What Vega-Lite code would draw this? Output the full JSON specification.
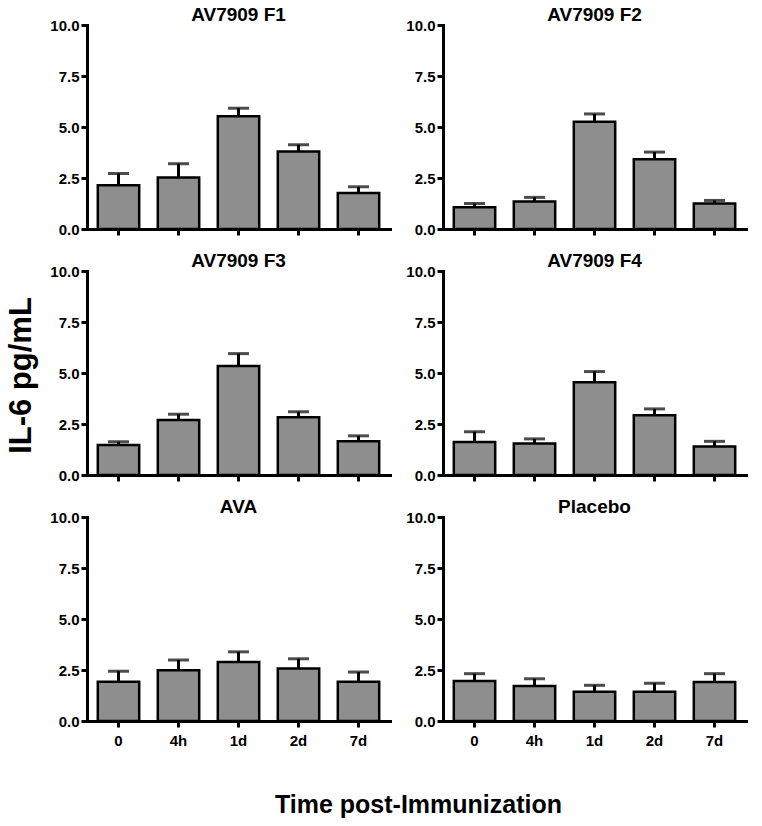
{
  "$schema": "https://vega.github.io/schema/vega-lite/v6.json",
  "padding": {"left": 4, "top": 6, "right": 5, "bottom": 2},
  "background": "white",
  "columns": 2,
  "spacing": {"row": 42, "column": 53},
  "bounds": "flush",
  "data": {"values": [
    {"panel": "AV7909 F1", "time": "0", "mean": 2.14, "upper": 2.72},
    {"panel": "AV7909 F1", "time": "4h", "mean": 2.53, "upper": 3.2},
    {"panel": "AV7909 F1", "time": "1d", "mean": 5.53, "upper": 5.92},
    {"panel": "AV7909 F1", "time": "2d", "mean": 3.8, "upper": 4.13},
    {"panel": "AV7909 F1", "time": "7d", "mean": 1.76, "upper": 2.07},
    {"panel": "AV7909 F2", "time": "0", "mean": 1.07, "upper": 1.25},
    {"panel": "AV7909 F2", "time": "4h", "mean": 1.35, "upper": 1.55},
    {"panel": "AV7909 F2", "time": "1d", "mean": 5.26, "upper": 5.64},
    {"panel": "AV7909 F2", "time": "2d", "mean": 3.42, "upper": 3.77},
    {"panel": "AV7909 F2", "time": "7d", "mean": 1.25, "upper": 1.4},
    {"panel": "AV7909 F3", "time": "0", "mean": 1.47, "upper": 1.63},
    {"panel": "AV7909 F3", "time": "4h", "mean": 2.69, "upper": 2.98},
    {"panel": "AV7909 F3", "time": "1d", "mean": 5.34, "upper": 5.95},
    {"panel": "AV7909 F3", "time": "2d", "mean": 2.83, "upper": 3.1},
    {"panel": "AV7909 F3", "time": "7d", "mean": 1.66, "upper": 1.92},
    {"panel": "AV7909 F4", "time": "0", "mean": 1.62, "upper": 2.12},
    {"panel": "AV7909 F4", "time": "4h", "mean": 1.54, "upper": 1.77},
    {"panel": "AV7909 F4", "time": "1d", "mean": 4.55, "upper": 5.07},
    {"panel": "AV7909 F4", "time": "2d", "mean": 2.93, "upper": 3.24},
    {"panel": "AV7909 F4", "time": "7d", "mean": 1.4, "upper": 1.65},
    {"panel": "AVA", "time": "0", "mean": 1.93, "upper": 2.44},
    {"panel": "AVA", "time": "4h", "mean": 2.49, "upper": 2.99},
    {"panel": "AVA", "time": "1d", "mean": 2.89, "upper": 3.39},
    {"panel": "AVA", "time": "2d", "mean": 2.57, "upper": 3.05},
    {"panel": "AVA", "time": "7d", "mean": 1.93, "upper": 2.4},
    {"panel": "Placebo", "time": "0", "mean": 1.96, "upper": 2.32},
    {"panel": "Placebo", "time": "4h", "mean": 1.72, "upper": 2.07},
    {"panel": "Placebo", "time": "1d", "mean": 1.43, "upper": 1.75},
    {"panel": "Placebo", "time": "2d", "mean": 1.43, "upper": 1.85},
    {"panel": "Placebo", "time": "7d", "mean": 1.91, "upper": 2.32}
  ]},
  "concat": [
    {
      "title": "AV7909 F1",
      "width": 303, "height": 204,
      "transform": [{"filter": "datum.panel == 'AV7909 F1'"}],
      "encoding": {"x": {"field": "time", "type": "ordinal", "sort": ["0", "4h", "1d", "2d", "7d"], "title": null, "scale": {"paddingInner": 0.31, "paddingOuter": 0.18}, "axis": {"labels": false}}},
      "layer": [
        {"mark": {"type": "bar", "fill": "#8e8e8e", "stroke": "black", "strokeWidth": 2.5}, "encoding": {"y": {"field": "mean", "type": "quantitative", "title": null, "scale": {"domain": [0, 10], "nice": false}, "axis": {"values": [0, 2.5, 5, 7.5, 10], "format": ".1f"}}}},
        {"mark": {"type": "rule", "color": "black", "strokeWidth": 3}, "encoding": {"y": {"field": "mean", "type": "quantitative", "title": null}, "y2": {"field": "upper", "title": null}}},
        {"mark": {"type": "tick", "color": "black", "thickness": 3, "size": 21}, "encoding": {"y": {"field": "upper", "type": "quantitative", "title": null}}}
      ]
    },
    {
      "title": "AV7909 F2",
      "width": 303, "height": 204,
      "transform": [{"filter": "datum.panel == 'AV7909 F2'"}],
      "encoding": {"x": {"field": "time", "type": "ordinal", "sort": ["0", "4h", "1d", "2d", "7d"], "title": null, "scale": {"paddingInner": 0.31, "paddingOuter": 0.18}, "axis": {"labels": false}}},
      "layer": [
        {"mark": {"type": "bar", "fill": "#8e8e8e", "stroke": "black", "strokeWidth": 2.5}, "encoding": {"y": {"field": "mean", "type": "quantitative", "title": null, "scale": {"domain": [0, 10], "nice": false}, "axis": {"values": [0, 2.5, 5, 7.5, 10], "format": ".1f"}}}},
        {"mark": {"type": "rule", "color": "black", "strokeWidth": 3}, "encoding": {"y": {"field": "mean", "type": "quantitative", "title": null}, "y2": {"field": "upper", "title": null}}},
        {"mark": {"type": "tick", "color": "black", "thickness": 3, "size": 21}, "encoding": {"y": {"field": "upper", "type": "quantitative", "title": null}}}
      ]
    },
    {
      "title": "AV7909 F3",
      "width": 303, "height": 204,
      "transform": [{"filter": "datum.panel == 'AV7909 F3'"}],
      "encoding": {"x": {"field": "time", "type": "ordinal", "sort": ["0", "4h", "1d", "2d", "7d"], "title": null, "scale": {"paddingInner": 0.31, "paddingOuter": 0.18}, "axis": {"labels": false}}},
      "layer": [
        {"mark": {"type": "bar", "fill": "#8e8e8e", "stroke": "black", "strokeWidth": 2.5}, "encoding": {"y": {"field": "mean", "type": "quantitative", "title": "IL-6 pg/mL", "scale": {"domain": [0, 10], "nice": false}, "axis": {"values": [0, 2.5, 5, 7.5, 10], "format": ".1f", "titleFontSize": 31, "titleX": -66, "titleY": 104, "titleAlign": "center", "titleBaseline": "middle", "titleAngle": -90}}}},
        {"mark": {"type": "rule", "color": "black", "strokeWidth": 3}, "encoding": {"y": {"field": "mean", "type": "quantitative", "title": "IL-6 pg/mL"}, "y2": {"field": "upper", "title": "IL-6 pg/mL"}}},
        {"mark": {"type": "tick", "color": "black", "thickness": 3, "size": 21}, "encoding": {"y": {"field": "upper", "type": "quantitative", "title": "IL-6 pg/mL"}}}
      ]
    },
    {
      "title": "AV7909 F4",
      "width": 303, "height": 204,
      "transform": [{"filter": "datum.panel == 'AV7909 F4'"}],
      "encoding": {"x": {"field": "time", "type": "ordinal", "sort": ["0", "4h", "1d", "2d", "7d"], "title": null, "scale": {"paddingInner": 0.31, "paddingOuter": 0.18}, "axis": {"labels": false}}},
      "layer": [
        {"mark": {"type": "bar", "fill": "#8e8e8e", "stroke": "black", "strokeWidth": 2.5}, "encoding": {"y": {"field": "mean", "type": "quantitative", "title": null, "scale": {"domain": [0, 10], "nice": false}, "axis": {"values": [0, 2.5, 5, 7.5, 10], "format": ".1f"}}}},
        {"mark": {"type": "rule", "color": "black", "strokeWidth": 3}, "encoding": {"y": {"field": "mean", "type": "quantitative", "title": null}, "y2": {"field": "upper", "title": null}}},
        {"mark": {"type": "tick", "color": "black", "thickness": 3, "size": 21}, "encoding": {"y": {"field": "upper", "type": "quantitative", "title": null}}}
      ]
    },
    {
      "title": "AVA",
      "width": 303, "height": 204,
      "transform": [{"filter": "datum.panel == 'AVA'"}],
      "encoding": {"x": {"field": "time", "type": "ordinal", "sort": ["0", "4h", "1d", "2d", "7d"], "title": "Time post-Immunization", "scale": {"paddingInner": 0.31, "paddingOuter": 0.18}, "axis": {"labelAngle": 0, "labelPadding": 6, "titleFontSize": 25, "titleX": 331, "titleY": 91, "titleAlign": "center", "titleBaseline": "alphabetic"}}},
      "layer": [
        {"mark": {"type": "bar", "fill": "#8e8e8e", "stroke": "black", "strokeWidth": 2.5}, "encoding": {"y": {"field": "mean", "type": "quantitative", "title": null, "scale": {"domain": [0, 10], "nice": false}, "axis": {"values": [0, 2.5, 5, 7.5, 10], "format": ".1f"}}}},
        {"mark": {"type": "rule", "color": "black", "strokeWidth": 3}, "encoding": {"y": {"field": "mean", "type": "quantitative", "title": null}, "y2": {"field": "upper", "title": null}}},
        {"mark": {"type": "tick", "color": "black", "thickness": 3, "size": 21}, "encoding": {"y": {"field": "upper", "type": "quantitative", "title": null}}}
      ]
    },
    {
      "title": "Placebo",
      "width": 303, "height": 204,
      "transform": [{"filter": "datum.panel == 'Placebo'"}],
      "encoding": {"x": {"field": "time", "type": "ordinal", "sort": ["0", "4h", "1d", "2d", "7d"], "title": null, "scale": {"paddingInner": 0.31, "paddingOuter": 0.18}, "axis": {"labelAngle": 0, "labelPadding": 6}}},
      "layer": [
        {"mark": {"type": "bar", "fill": "#8e8e8e", "stroke": "black", "strokeWidth": 2.5}, "encoding": {"y": {"field": "mean", "type": "quantitative", "title": null, "scale": {"domain": [0, 10], "nice": false}, "axis": {"values": [0, 2.5, 5, 7.5, 10], "format": ".1f"}}}},
        {"mark": {"type": "rule", "color": "black", "strokeWidth": 3}, "encoding": {"y": {"field": "mean", "type": "quantitative", "title": null}, "y2": {"field": "upper", "title": null}}},
        {"mark": {"type": "tick", "color": "black", "thickness": 3, "size": 21}, "encoding": {"y": {"field": "upper", "type": "quantitative", "title": null}}}
      ]
    }
  ],
  "config": {
    "view": {"stroke": null},
    "axis": {"domainColor": "black", "domainWidth": 3, "domainCap": "square", "tickColor": "black", "tickWidth": 3, "tickSize": 6, "grid": false, "labelFont": "Liberation Sans", "labelFontWeight": "bold", "labelFontSize": 15, "labelColor": "black", "labelPadding": 2, "titleFont": "Liberation Sans", "titleFontWeight": "bold", "titleColor": "black"},
    "title": {"font": "Liberation Sans", "fontSize": 19, "fontWeight": "bold", "color": "black", "offset": -7, "anchor": "middle"}
  }
}
